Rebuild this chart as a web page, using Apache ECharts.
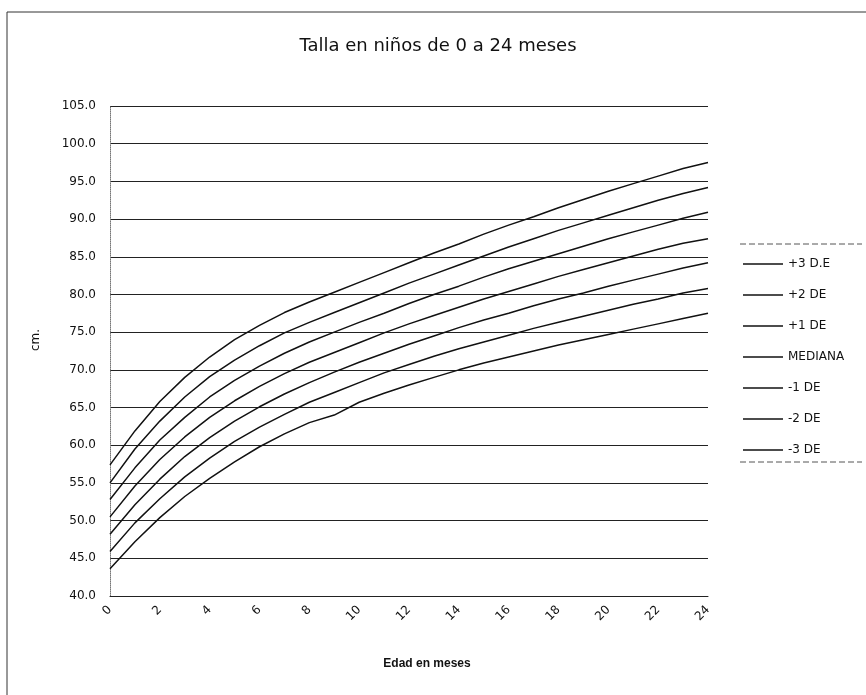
<!DOCTYPE html>
<html>
<head>
<meta charset="utf-8">
<script src="https://cdn.jsdelivr.net/npm/echarts@6/dist/echarts.min.js"></script>
<style>
html,body{margin:0;padding:0;background:#fff;}
#chart{width:866px;height:695px;}
</style>
</head>
<body>
<div id="chart"></div>
<script>
const months = ["0","1","2","3","4","5","6","7","8","9","10","11","12","13","14","15","16","17","18","19","20","21","22","23","24"];
const seriesNames = ["+3 D.E", "+2 DE", "+1 DE", "MEDIANA", "-1 DE", "-2 DE", "-3 DE"];
const plus3  = [57.4,61.9,65.8,69.0,71.7,74.0,75.9,77.6,79.0,80.3,81.6,82.9,84.2,85.5,86.7,88.0,89.2,90.3,91.5,92.6,93.7,94.7,95.7,96.7,97.5];
const plus2  = [55.0,59.5,63.2,66.4,69.1,71.3,73.2,74.9,76.3,77.6,78.9,80.2,81.5,82.7,83.9,85.1,86.3,87.4,88.5,89.5,90.5,91.5,92.5,93.4,94.2];
const plus1  = [52.8,57.0,60.7,63.7,66.4,68.6,70.5,72.2,73.7,75.0,76.3,77.5,78.8,80.0,81.1,82.3,83.4,84.4,85.4,86.4,87.4,88.3,89.2,90.1,90.9];
const median = [50.5,54.6,58.1,61.1,63.7,65.9,67.8,69.5,71.0,72.3,73.6,74.9,76.1,77.2,78.3,79.4,80.4,81.4,82.4,83.3,84.2,85.1,86.0,86.8,87.4];
const minus1 = [48.2,52.1,55.5,58.5,61.0,63.2,65.1,66.8,68.3,69.7,71.0,72.2,73.4,74.5,75.6,76.6,77.5,78.5,79.4,80.2,81.1,81.9,82.7,83.5,84.2];
const minus2 = [45.9,49.7,52.9,55.8,58.3,60.5,62.4,64.1,65.7,67.0,68.3,69.6,70.7,71.8,72.8,73.7,74.6,75.5,76.3,77.1,77.9,78.7,79.4,80.2,80.8];
const minus3 = [43.6,47.2,50.4,53.2,55.6,57.8,59.8,61.5,63.0,64.0,65.7,66.9,68.0,69.0,70.0,70.9,71.7,72.5,73.3,74.0,74.7,75.4,76.1,76.8,77.5];
const yTicks = [40,45,50,55,60,65,70,75,80,85,90,95,100,105];

const allData = [plus3, plus2, plus1, median, minus1, minus2, minus3];
const FONT = '"DejaVu Sans", "Liberation Sans", Arial, sans-serif';
const FONT2 = '"Liberation Sans", Arial, sans-serif';

const chart = echarts.init(document.getElementById('chart'), null, {renderer:'canvas'});
chart.setOption({
  backgroundColor: '#ffffff',
  animation: false,
  title: {
    text: 'Talla en niños de 0 a 24 meses',
    left: 433, top: 32, textAlign: 'center',
    textStyle: {fontFamily: FONT, fontSize: 18, fontWeight: 'normal', color: '#111'}
  },
  legend: {
    orient: 'vertical',
    left: 738, top: 253,
    itemWidth: 40, itemHeight: 10, itemGap: 19,
    icon: 'path://M0,4.2 L40,4.2 L40,5.8 L0,5.8 Z',
    data: seriesNames,
    textStyle: {fontFamily: FONT, fontSize: 12, color: '#111'}
  },
  grid: {left: 110, right: 158, top: 106, bottom: 99, containLabel: false},
  xAxis: {
    type: 'category',
    data: months,
    boundaryGap: false,
    name: 'Edad en meses',
    nameLocation: 'middle',
    nameGap: 62,
    nameTextStyle: {fontFamily: FONT2, fontSize: 12, fontWeight: 'bold', color: '#111', padding: [0, 0, 0, 36]},
    axisLine: {show: true, lineStyle: {color: '#222', width: 1}},
    axisTick: {show: false},
    axisLabel: {interval: 1, rotate: 45, margin: 12, fontFamily: FONT, fontSize: 12, color: '#111'},
    splitLine: {show: false}
  },
  yAxis: {
    type: 'value',
    min: yTicks[0], max: yTicks[yTicks.length - 1], interval: 5,
    name: 'cm.',
    nameLocation: 'middle',
    nameGap: 68,
    nameRotate: 90,
    nameTextStyle: {fontFamily: FONT, fontSize: 12, color: '#111', padding: [0, 0, 0, 22]},
    axisLine: {show: true, lineStyle: {color: '#777', width: 1, type: 'dotted'}},
    axisTick: {show: false},
    axisLabel: {margin: 14, fontFamily: FONT, fontSize: 12, color: '#111', formatter: v => v.toFixed(1)},
    splitLine: {show: true, lineStyle: {color: '#222', width: 1}}
  },
  graphic: [
    {type: 'rect', shape: {x: 7, y: 12, width: 900, height: 720}, style: {fill: 'none', stroke: '#333', lineWidth: 1}, silent: true},
    {type: 'line', shape: {x1: 740, y1: 244, x2: 862, y2: 244}, style: {stroke: '#555', lineWidth: 1, lineDash: [6, 3]}, silent: true},
    {type: 'line', shape: {x1: 740, y1: 462, x2: 862, y2: 462}, style: {stroke: '#555', lineWidth: 1, lineDash: [6, 3]}, silent: true}
  ],
  series: seriesNames.map((name, i) => ({
    name: name,
    type: 'line',
    data: allData[i],
    symbol: 'none',
    smooth: false,
    lineStyle: {color: '#111', width: 1.5},
    itemStyle: {color: '#111'}
  }))
});
</script>
</body>
</html>
